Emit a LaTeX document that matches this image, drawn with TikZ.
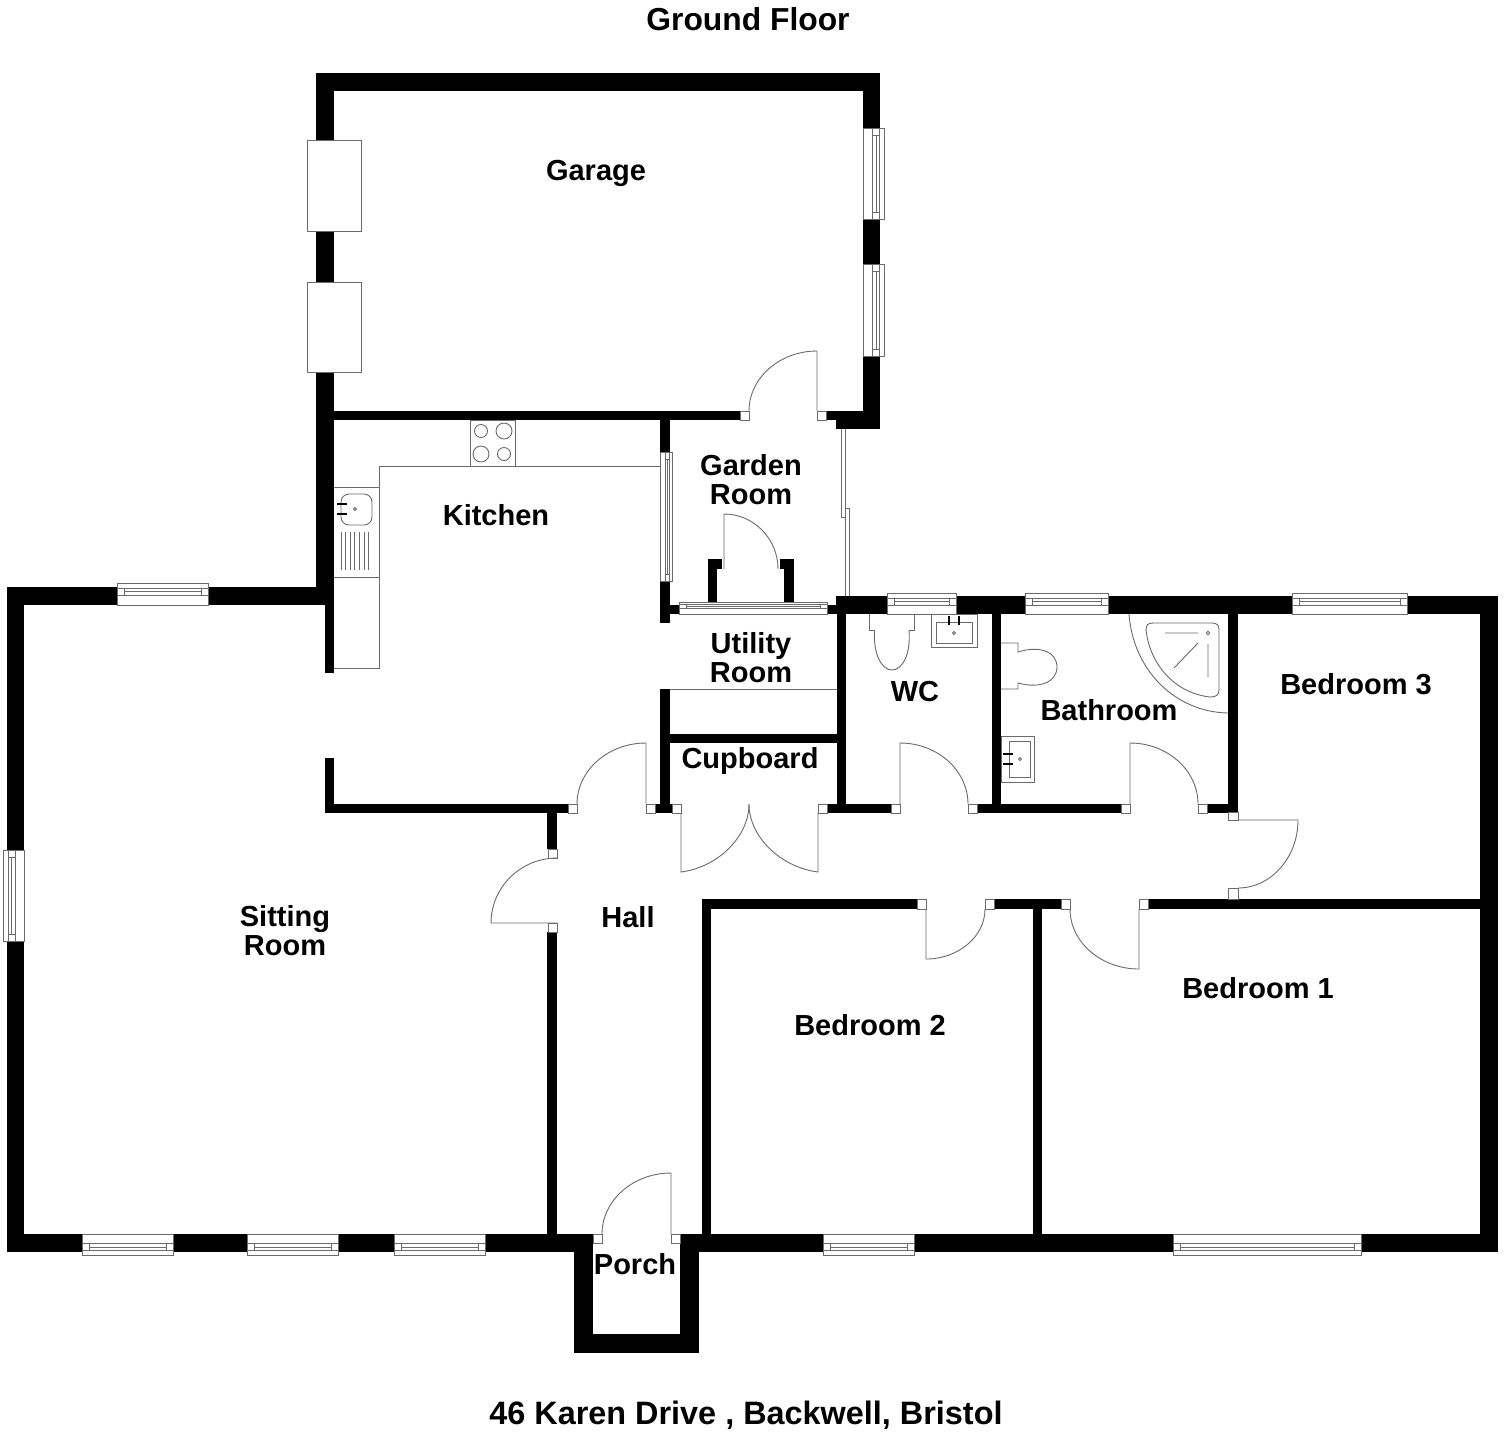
\documentclass[tikz,border=0pt]{standalone}
\usepackage{fontspec}
\setmainfont{Liberation Sans}
\usetikzlibrary{calc}
\definecolor{planline}{gray}{0.42}
\tikzset{
  wallfill/.style={fill=black,draw=none},
  planthin/.style={draw=planline,line width=0.45pt},
  jambbox/.style={planthin,fill=white},
  roomlabel/.style={font=\fontsize{14.5}{14.5}\selectfont\bfseries,align=center,inner sep=0pt,text=black},
  titlelabel/.style={font=\fontsize{15.9}{17}\selectfont\bfseries,inner sep=0pt,text=black},
  addresslabel/.style={font=\fontsize{16.2}{17}\selectfont\bfseries,inner sep=0pt,text=black}
}
% window across a wall: x from, x to, outer side, inner side
\newcommand{\winh}[4]{%
  \pgfmathsetmacro\wa{#3+0.24*(#4-#3)}\pgfmathsetmacro\wb{#3+0.38*(#4-#3)}\pgfmathsetmacro\wc{#3+0.57*(#4-#3)}
  \draw[jambbox] (#1,#3) rectangle (#2,#4);
  \draw[planthin] (#1,\wc) -- (#2,\wc) (#1,\wa) -- (#2,\wa);
  \draw[planthin] (#1+7,\wa) rectangle (#2-7,\wc) (#1+7,\wb) -- (#2-7,\wb);
}
\newcommand{\winv}[4]{%
  \pgfmathsetmacro\wa{#1+0.24*(#2-#1)}\pgfmathsetmacro\wb{#1+0.38*(#2-#1)}\pgfmathsetmacro\wc{#1+0.57*(#2-#1)}
  \draw[jambbox] (#1,#3) rectangle (#2,#4);
  \draw[planthin] (\wc,#3) -- (\wc,#4) (\wa,#3) -- (\wa,#4);
  \draw[planthin] (\wa,#3+7) rectangle (\wc,#4-7) (\wb,#3+7) -- (\wb,#4-7);
}
% door: hinge, tip of the leaf, end of the swing
\newcommand{\doorleaf}[6]{%
  \draw[planthin] (#1,#2) -- (#3,#4) .. controls ($(#3,#4)+0.55*(#5,#6)-0.55*(#1,#2)$) and ($(#5,#6)+0.55*(#3,#4)-0.55*(#1,#2)$) .. (#5,#6);
}
\begin{document}
\begin{tikzpicture}[x=0.5pt,y=-0.5pt]
\useasboundingbox[fill=white] (0,0) rectangle (1504,1431);
% walls
\foreach \xa/\ya/\xb/\yb in {
  316/73/880/91, 316/73/334/605, 863/73/880/429, 334/411/740/420, 826/411/880/420, 836/411/880/429,
  7/587/325/605, 325/587/334/673, 7/587/24/1252, 325/758/334/813, 325/804/568/813,
  660/420/670/623, 660/605/680/614, 827/605/840/614, 836/596/1498/614, 708/559/717/603, 708/559/722/569, 784/559/794/603, 780/559/794/569,
  660/689/670/813, 670/734/838/743, 837/605/846/813, 646/804/672/813, 827/804/891/813, 977/804/1121/813, 992/605/1001/813, 1207/804/1229/813, 1228/605/1238/813,
  702/899/917/909, 702/899/711/1252, 994/899/1061/909, 1148/899/1498/909, 1033/899/1042/1252, 1480/596/1498/1252,
  547/804/557/849, 547/932/557/1252, 7/1234/593/1252, 680/1234/1498/1252,
  574/1234/593/1353, 680/1234/699/1353, 574/1334/699/1353}
  \fill[wallfill] (\xa,\ya) rectangle (\xb,\yb);
% windows
\foreach \xa/\xb/\ya/\yb in {117/208/583/605, 82/173/1255/1234, 247/338/1255/1234, 394/485/1255/1234, 823/914/1255/1234, 1173/1361/1255/1234,
  887/956/593/614, 1025/1108/593/614, 1292/1407/593/614, 679/827/602/614}
  \winh{\xa}{\xb}{\ya}{\yb}
\foreach \xa/\xb/\ya/\yb in {3/24/850/941, 884/863/128/219, 884/863/264/356, 672/660/452/581}
  \winv{\xa}{\xb}{\ya}{\yb}
% garage doors and door jambs
\foreach \xa/\ya/\xb/\yb in {307/140/361/231, 307/282/361/372,
  740/411/749/420, 817/411/826/420, 568/804/577/813, 646/804/655/813, 672/804/681/813, 818/804/827/813,
  891/804/900/813, 968/804/977/813, 1121/804/1130/813, 1198/804/1207/813, 1228/812/1238/820, 1228/888/1238/899,
  917/899/926/909, 985/899/994/909, 1061/899/1070/909, 1139/899/1148/909,
  548/849/557/858, 548/923/557/932, 593/1234/602/1243, 671/1234/680/1243}
  \draw[jambbox] (\xa,\ya) rectangle (\xb,\yb);
% doors
\doorleaf{817}{411}{817}{351}{749}{411}
\doorleaf{724}{569}{724}{514}{778}{569}
\doorleaf{646}{804}{646}{743}{577}{804}
\doorleaf{681}{813}{681}{872}{749}{804}
\doorleaf{818}{813}{818}{872}{749}{804}
\doorleaf{900}{804}{900}{743}{968}{804}
\doorleaf{1130}{804}{1130}{743}{1198}{804}
\doorleaf{1238}{820}{1298}{820}{1238}{888}
\doorleaf{926}{909}{926}{959}{985}{909}
\doorleaf{1139}{909}{1139}{969}{1070}{909}
\doorleaf{557}{923}{491}{923}{557}{858}
\doorleaf{671}{1234}{671}{1173}{602}{1234}
% sliding glazing and fitted lines
\draw[planthin] (841,429) -- (841,517) -- (845,517) -- (845,508) -- (849.5,508) -- (849.5,596) (845,429) -- (845,517) (845,517) -- (845,596);
\draw[planthin] (670,689) -- (837,689);
\draw[planthin] (660,466) -- (379,466) -- (379,668) -- (334,668);
% hob
\draw[planthin] (470,420) rectangle (515.5,466);
\foreach \cx/\cy/\cr in {481/431/6.5, 504/431/8, 481/454/8, 504/454/6.5}
  \draw[planthin] (\cx,\cy) circle[radius=\cr];
% kitchen sink
\draw[planthin] (334,487) -- (379,487) (334,577) -- (379,577);
\draw[planthin,rounded corners=4pt] (341,494) rectangle (372,525);
\draw[planthin] (355,509) circle[radius=1.5];
\foreach \ty in {504,514}
  \draw[black,line width=1pt] (337,\ty) -- (347,\ty);
\foreach \dx in {341,345.6,...,373}
  \draw[planthin] (\dx,532) -- (\dx,570);
% shower
\draw[planthin] (1129,614) .. controls (1133,670) and (1175,712) .. (1228,713);
\draw[planthin] (1153,623) -- (1212,623) .. controls (1217,623) and (1219,625) .. (1219,630) -- (1219,690) .. controls (1219,695) and (1216,697) .. (1210,697) .. controls (1175,693) and (1150,665) .. (1146,630) .. controls (1146,625) and (1148,623) .. (1153,623) -- cycle;
\draw[planthin] (1165,633) -- (1198,633) (1174,668) -- (1198,643) (1208,644) -- (1208,677);
\draw[planthin] (1208,633) circle[radius=1.8];
% wc
\draw[planthin] (869,614) -- (869,630) -- (874.5,630) (914.5,614) -- (914.5,630) -- (909,630);
\draw[planthin] (874.5,630) .. controls (873,655) and (882,670) .. (892,670) .. controls (902,670) and (911,655) .. (909,630);
\draw[planthin] (931,614) rectangle (977,647);
\draw[planthin] (936,622) rectangle (972.5,643);
\draw[planthin] (954,633) circle[radius=1.5];
\foreach \tx in {949,959}
  \draw[black,line width=1pt] (\tx,616) -- (\tx,625);
% bathroom
\draw[planthin] (1001,643) -- (1018,643) -- (1018,652) .. controls (1040,645) and (1057,652) .. (1057,667) .. controls (1057,682) and (1040,689) .. (1018,683) -- (1018,689) -- (1001,689);
\draw[planthin] (1001,736) rectangle (1034,782);
\draw[planthin] (1009,741) rectangle (1030,777);
\draw[planthin] (1020,759) circle[radius=1.5];
\foreach \ty in {754,764}
  \draw[black,line width=1pt] (1003,\ty) -- (1013,\ty);
% labels
\node[titlelabel] (title) at (748,19) {Ground Floor};
\node[addresslabel] (address) at (746,1415) {46 Karen Drive , Backwell, Bristol};
\node[roomlabel] (garage) at (596,173) {Garage};
\node[roomlabel] (gardenroom) at (751,480) {Garden\\Room};
\node[roomlabel] (kitchen) at (496,515) {Kitchen};
\node[roomlabel] (utility) at (751,658) {Utility\\Room};
\node[roomlabel] (cupboard) at (750,761) {Cupboard};
\node[roomlabel] (wc) at (915,692) {WC};
\node[roomlabel] (bathroom) at (1109,710) {Bathroom};
\node[roomlabel] (bedthree) at (1356,684) {Bedroom 3};
\node[roomlabel] (sitting) at (285,931) {Sitting\\Room};
\node[roomlabel] (hall) at (628,917) {Hall};
\node[roomlabel] (bedtwo) at (870,1025) {Bedroom 2};
\node[roomlabel] (bedone) at (1258,988) {Bedroom 1};
\node[roomlabel] (porch) at (635,1264) {Porch};
\end{tikzpicture}
\end{document}
